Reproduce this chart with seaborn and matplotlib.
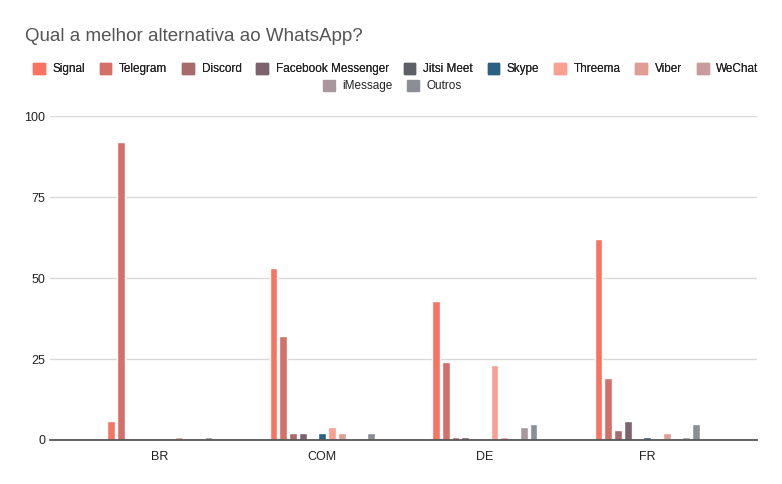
import matplotlib
matplotlib.use("Agg")
import matplotlib.pyplot as plt
import numpy as np
import pandas as pd
import seaborn as sns
from matplotlib.patches import Patch

# Data
countries = ["BR", "COM", "DE", "FR"]
apps = ["Signal", "Telegram", "Discord", "Facebook Messenger", "Jitsi Meet",
        "Skype", "Threema", "Viber", "WeChat", "iMessage", "Outros"]
signal = [6, 53, 43, 62]
telegram = [92, 32, 24, 19]
discord = [0, 2, 1, 3]
facebook = [0, 2, 1, 6]
jitsi = [0, 0, 0, 0]
skype = [0, 2, 0, 1]
threema = [0, 4, 23, 0]
viber = [1, 2, 1, 2]
wechat = [0, 0, 0, 0]
imessage = [0, 0, 4, 1]
outros = [1, 2, 5, 5]

colors = ["#f77462", "#d3706a", "#a96a6b", "#7c636e", "#5d6068", "#2b6080",
          "#fa9f91", "#e09c96", "#c89c9c", "#a8989d", "#8b8e95"]

series = [signal, telegram, discord, facebook, jitsi, skype, threema,
          viber, wechat, imessage, outros]
rows = []
for app, vals in zip(apps, series):
    for c, v in zip(countries, vals):
        rows.append({"country": c, "app": app, "value": v})
df = pd.DataFrame(rows)

sns.set_style("white")
plt.rcParams["font.family"] = ["Liberation Sans", "DejaVu Sans"]

fig = plt.figure(figsize=(7.82, 4.84), dpi=100)
ax = fig.add_axes([0.064, 0.091, 0.904, 0.669])

palette = dict(zip(apps, colors))
sns.barplot(data=df, x="country", y="value", hue="app", hue_order=apps,
            order=countries, palette=palette, width=0.66, gap=0.22,
            saturation=1, legend=False, ax=ax)

ax.set_xlim(-0.675, 3.675)
ax.set_ylim(0, 100)
ax.set_yticks([0, 25, 50, 75, 100])
ax.grid(axis="y", color="#d9d9d9", linewidth=1)
ax.set_axisbelow(True)
for s in ["top", "right", "left"]:
    ax.spines[s].set_visible(False)
ax.spines["bottom"].set_color("#555555")
ax.spines["bottom"].set_linewidth(1.3)
ax.tick_params(axis="both", length=0, labelsize=9, colors="#222222")
ax.tick_params(axis="x", pad=8)
ax.set_xlabel("")
ax.set_ylabel("")

fig.text(0.032, 0.925, "Qual a melhor alternativa ao WhatsApp?",
         fontsize=13.5, color="#555555", ha="left", va="center")

handles = [Patch(facecolor=c, edgecolor=c, label=a) for a, c in zip(apps, colors)]
leg_kw = dict(loc="center", frameon=False, fontsize=8.5, handlelength=1.0,
              handleheight=1.0, handletextpad=0.65, columnspacing=1.25,
              labelcolor="#222222", borderpad=0.0)
leg1 = fig.legend(handles=handles[:9], bbox_to_anchor=(0.506, 0.857),
                  ncol=9, **leg_kw)
leg2 = fig.legend(handles=handles[9:], bbox_to_anchor=(0.502, 0.822),
                  ncol=2, **leg_kw)
fig.add_artist(leg1)

fig.savefig("out.png", dpi=100)
